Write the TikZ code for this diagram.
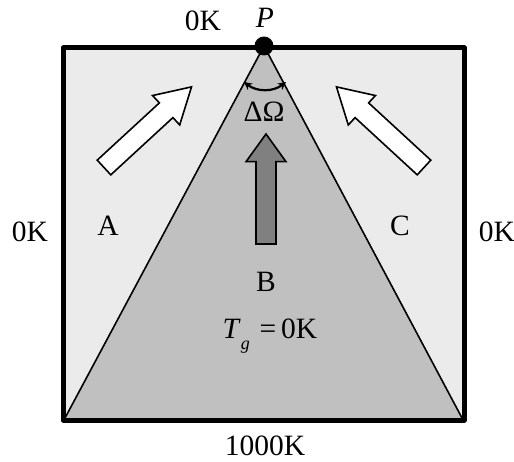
\documentclass[tikz,border=0pt]{standalone}
\usepackage{fontspec}
\setmainfont{Liberation Serif}
\usetikzlibrary{arrows.meta}
\definecolor{outergray}{HTML}{EBEBEB}
\definecolor{conegray}{HTML}{C0C0C0}
\definecolor{arrowgray}{HTML}{808080}
\tikzset{
  lbl/.style={inner sep=0pt, font=\fontsize{29.5}{32}\selectfont},
  thinline/.style={line width=1.6pt, line join=miter},
  boxline/.style={line width=5pt, line join=round},
  fatarrow/.style={draw, line width=1.6pt, line join=miter},
}
\newcommand{\hollowarrow}[5]{% style, shift, angle, length, headlength
  \begin{scope}[shift={#2}, rotate=#3]
    \filldraw[fatarrow,#1] (0,-10) -- (#4-#5,-10) -- (#4-#5,-20) -- (#4,0)
      -- (#4-#5,20) -- (#4-#5,10) -- (0,10) -- cycle;
  \end{scope}}
\begin{document}
\begin{tikzpicture}[x=1pt,y=-1pt]
\useasboundingbox (0,0) rectangle (514,462);
\coordinate (TL) at (63,48);
\coordinate (BR) at (464,420);
\coordinate (BL) at (65,418);
\coordinate (BRi) at (462,418);
\coordinate (P) at (264,46);
% regions
\fill[outergray] (TL) rectangle (BR);
\fill[conegray] (P) -- (BL) -- (BRi) -- cycle;
\draw[thinline] (BL) -- (P) -- (BRi);
\draw[boxline] (TL) rectangle (BR);
\fill (P) circle (9.5);
% arrows
\hollowarrow{fill=white}{(104,167.5)}{42.65}{119}{34.5}
\hollowarrow{fill=white}{(424,167.5)}{137.35}{119}{34.5}
\hollowarrow{fill=arrowgray}{(266,244)}{90}{110}{27.7}
% solid angle arc
\coordinate (arcL) at (244,82);
\coordinate (arcR) at (286,82);
\draw[line width=2.2pt, {Stealth[length=8pt,width=8pt]}-{Stealth[length=8pt,width=8pt]}]
  (arcL) .. controls (257,92) and (273,92) .. (arcR);
% labels
\node[lbl] (t0K) at (203,21) {0K};
\node[lbl] (tP) at (265,18) {\textit{P}};
\node[lbl] (l0K) at (30,232) {0K};
\node[lbl] (r0K) at (497,232) {0K};
\node[lbl] (tA) at (108,226) {A};
\node[lbl] (tC) at (400,226) {C};
\node[lbl] (tB) at (266,282) {B};
\node[lbl] (tOm) at (264,112) {ΔΩ};
\node[lbl] (tTg) at (270,336) {\textit{T}\raisebox{-0.35em}{\fontsize{18}{18}\selectfont\textit{g}}\,\,=\,0K};
\node[lbl] (t1000) at (265,446) {1000K};
\end{tikzpicture}
\end{document}
